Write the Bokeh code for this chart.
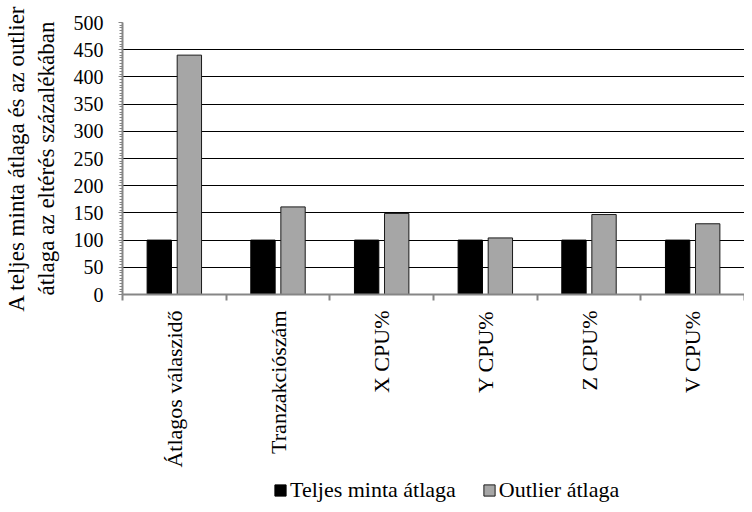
import math
from bokeh.plotting import figure
from bokeh.layouts import column
from bokeh.models import ColumnDataSource, Range1d, FixedTicker, Legend, LegendItem
from bokeh.embed import file_html
from bokeh.resources import INLINE

categories = ["Átlagos válaszidő", "Tranzakciószám", "X CPU%", "Y CPU%", "Z CPU%", "V CPU%"]
teljes = [100, 100, 100, 100, 100, 100]
outlier = [440, 161, 149, 104, 147, 130]
y_ticks = [0, 50, 100, 150, 200, 250, 300, 350, 400, 450, 500]
series_names = ["Teljes minta átlaga", "Outlier átlaga"]

FONT = "Liberation Serif"
BLACK_FILL = "black"
GREY_FILL = "#a6a6a6"
GREY_LINE = "#1a1a1a"
n = len(categories)
offset = 0.145
bw = 0.235

src = ColumnDataSource(dict(
    xb=[i + 0.5 - offset for i in range(n)],
    xg=[i + 0.5 + offset for i in range(n)],
    teljes=teljes,
    outlier=outlier,
))

p = figure(width=744, height=470, output_backend="svg", toolbar_location=None,
           x_range=Range1d(0, n), y_range=Range1d(0, 500),
           min_border_left=108, min_border_right=0, min_border_top=22,
           min_border_bottom=176)
p.outline_line_color = None
p.background_fill_color = "white"

p.vbar(x="xb", top="teljes", width=bw, source=src, fill_color=BLACK_FILL,
       line_color="black", line_width=1)
p.vbar(x="xg", top="outlier", width=bw, source=src, fill_color=GREY_FILL,
       line_color=GREY_LINE, line_width=1)

# x axis
p.xaxis.ticker = FixedTicker(ticks=[i + 0.5 for i in range(n)],
                             minor_ticks=list(range(n + 1)))
p.xaxis.major_label_overrides = {i + 0.5: c for i, c in enumerate(categories)}
p.xaxis.major_label_orientation = math.pi / 2
p.xaxis.major_tick_line_color = None
p.xaxis.major_tick_out = 6
p.xaxis.minor_tick_line_color = "#868686"
p.xaxis.minor_tick_line_width = 2
p.xaxis.minor_tick_out = 6
p.xaxis.minor_tick_in = 0
p.xaxis.axis_line_color = "#868686"
p.xaxis.axis_line_width = 2
p.xaxis.major_label_text_font = FONT
p.xaxis.major_label_text_font_size = "22px"
p.xaxis.major_label_text_color = "black"
p.xaxis.major_label_standoff = 10
p.xgrid.grid_line_color = None

# y axis
p.yaxis.ticker = FixedTicker(ticks=y_ticks, minor_ticks=list(range(0, 501, 5)))
p.yaxis.axis_line_color = "#868686"
p.yaxis.axis_line_width = 2
p.yaxis.major_tick_line_color = "#868686"
p.yaxis.major_tick_out = 4
p.yaxis.major_tick_in = 0
p.yaxis.minor_tick_line_color = "#868686"
p.yaxis.minor_tick_out = 3
p.yaxis.minor_tick_in = 0
p.yaxis.major_label_text_font = FONT
p.yaxis.major_label_text_font_size = "20px"
p.yaxis.major_label_text_color = "black"
p.yaxis.major_label_standoff = 15
p.yaxis.axis_label = "A teljes minta átlaga és az outlier\nátlaga az eltérés százalékában"
p.yaxis.axis_label_text_font = FONT
p.yaxis.axis_label_text_font_size = "23px"
p.yaxis.axis_label_text_font_style = "normal"
p.yaxis.axis_label_text_color = "black"
p.yaxis.axis_label_standoff = 12
p.ygrid.grid_line_color = "black"
p.ygrid.grid_line_width = 1

# legend strip (same data, drawn far outside its visible range so only the legend shows)
lg = figure(width=744, height=34, output_backend="svg", toolbar_location=None,
            x_range=Range1d(0, n), y_range=Range1d(10000, 10001),
            x_axis_type=None, y_axis_type=None,
            min_border_left=0, min_border_right=0, min_border_top=0, min_border_bottom=0)
lg.outline_line_color = None
lg.xgrid.grid_line_color = None
lg.ygrid.grid_line_color = None
g1 = lg.vbar(x="xb", top="teljes", width=bw, source=src,
             fill_color=BLACK_FILL, line_color="black")
g2 = lg.vbar(x="xg", top="outlier", width=bw, source=src,
             fill_color=GREY_FILL, line_color=GREY_LINE)
legend = Legend(items=[LegendItem(label=series_names[0], renderers=[g1]),
                       LegendItem(label=series_names[1], renderers=[g2])],
                orientation="horizontal", location=(151, 1))
legend.label_text_font = FONT
legend.label_text_font_size = "22px"
legend.label_text_color = "black"
legend.glyph_width = 14
legend.glyph_height = 14
legend.label_standoff = 3
legend.spacing = 26
legend.border_line_color = None
legend.background_fill_alpha = 0
legend.padding = 0
legend.margin = 0
lg.add_layout(legend, "center")

layout = column(p, lg, spacing=0)
open("out.html", "w").write(file_html(layout, INLINE))
